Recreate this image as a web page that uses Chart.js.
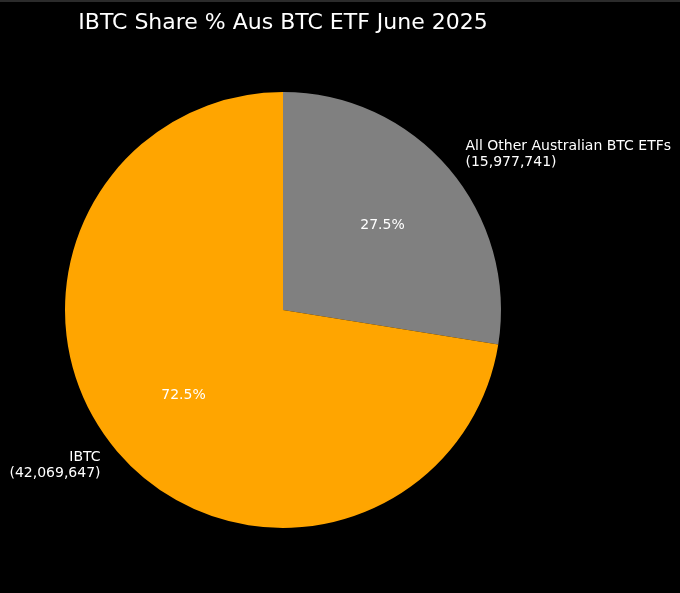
<!DOCTYPE html>
<html>
<head>
<meta charset="utf-8">
<script src="https://cdn.jsdelivr.net/npm/chart.js@4"></script>
<style>
  html, body { margin: 0; padding: 0; background: #000; }
  #wrap { width: 680px; height: 593px; }
</style>
</head>
<body>
<div id="wrap"><canvas id="pieChart" width="680" height="593"></canvas></div>
<script>
// Data
const categories = ['All Other Australian BTC ETFs', 'IBTC'];
const holdings = [15977741, 42069647];
const sliceColors = ['#808080', '#FFA500'];
const chartTitle = 'IBTC Share % Aus BTC ETF June 2025';

/**
 * Background, title, top strip and the matplotlib style slice labels
 */
const pieLabels = {
    id: 'pieLabels',
    beforeDraw(chart) {
        const ctx = chart.ctx;
        ctx.save();
        ctx.fillStyle = '#000';
        ctx.fillRect(0, 0, chart.width, chart.height);
        ctx.fillStyle = '#2b2b2b';
        ctx.fillRect(0, 0, chart.width, 2);
        ctx.restore();
    },
    afterDraw(chart) {
        const ctx = chart.ctx;
        const arcs = chart.getDatasetMeta(0).data;
        const total = holdings.reduce((a, b) => a + b, 0);
        ctx.save();
        ctx.fillStyle = '#fff';

        // title centred over the pie
        ctx.font = '22px "DejaVu Sans"';
        ctx.textAlign = 'center';
        ctx.textBaseline = 'alphabetic';
        ctx.fillText(chartTitle, arcs[0].x, 29);

        ctx.font = '14px "DejaVu Sans"';
        ctx.textBaseline = 'middle';

        arcs.forEach((arc, i) => {
            const mid = (arc.startAngle + arc.endAngle) / 2;
            const r = arc.outerRadius;
            const cos = Math.cos(mid);
            const sin = Math.sin(mid);

            // percentage inside the slice
            const pct = (holdings[i] / total * 100).toFixed(1) + '%';
            ctx.textAlign = 'center';
            ctx.fillText(pct, arc.x + cos * r * 0.6, arc.y + sin * r * 0.6);

            // category label outside
            const lx = arc.x + cos * r * 1.1;
            const ly = arc.y + sin * r * 1.1;
            ctx.textAlign = cos >= 0 ? 'left' : 'right';
            const lines = [categories[i], '(' + holdings[i].toLocaleString('en-US') + ')'];
            const lh = 16;
            lines.forEach((line, j) => {
                ctx.fillText(line, lx, ly + (j - (lines.length - 1) / 2) * lh);
            });
        });
        ctx.restore();
    }
};

new Chart(document.getElementById('pieChart'), {
    type: 'pie',
    data: {
        labels: categories,
        datasets: [{
            data: holdings,
            backgroundColor: sliceColors,
            borderWidth: 0
        }]
    },
    options: {
        responsive: false,
        animation: false,
        layout: {
            padding: { left: 65, right: 179, top: 92, bottom: 65 }
        },
        plugins: {
            legend: { display: false },
            tooltip: { enabled: false },
            title: { display: false }
        }
    },
    plugins: [pieLabels]
});
</script>
</body>
</html>
